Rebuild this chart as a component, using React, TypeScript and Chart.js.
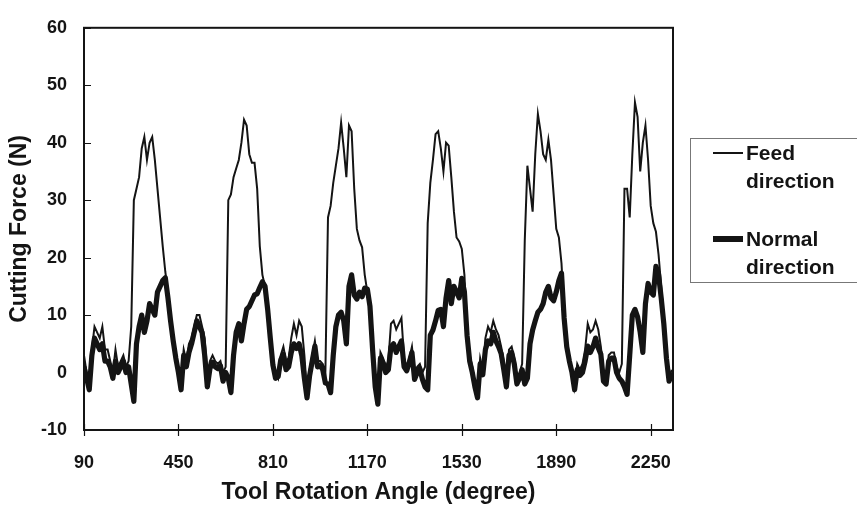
import React, { useEffect, useRef } from "react";
import { Chart, registerables } from "chart.js";

Chart.register(...registerables);

// ---- data ----
const ANGLE_START = 90; // degrees, first sample
const ANGLE_STEP = 10; // degrees between samples
const X_MIN = 90;
const X_MAX = 2335;
const X_TICKS = [90, 450, 810, 1170, 1530, 1890, 2250];
const Y_TICKS = [-10, 0, 10, 20, 30, 40, 50, 60];
const SERIES_NAMES = ["Feed direction", "Normal direction"];
const X_TITLE = "Tool Rotation Angle (degree)";
const Y_TITLE = "Cutting Force (N)";

const FEED = [
  3, 0, -2, 4, 8, 7, 6, 8, 4, 4,
  2, 0, 4, 1, 2, 3, 1, 2, 8, 30,
  32, 34, 39, 41, 37, 40, 41, 37, 32, 27,
  22, 17.5, 14, 10, 6, 3.5, 0.5, -1, 4, 2,
  5, 6, 8, 10, 10, 8, 6, 0, 2, 3,
  2, 1.5, 2, 0, 1, 30, 31, 34, 35.5, 37,
  40, 44, 43, 38, 36.5, 36.5, 32, 22, 17, 15,
  11.5, 6.5, 2, 0, -1, 3, 4.5, 2, 2.5, 6,
  8.5, 6.5, 9, 8, 3, -3.5, 0.5, 3, 5.5, 2,
  2, 1.5, 0, 27, 29, 33, 36, 39, 43.5, 39,
  34, 43, 42, 32, 25, 23, 21.8, 17, 14, 12,
  5, -1, -4.5, 3.5, 2.5, 1, 2, 8.5, 9, 7.5,
  8.5, 9.5, 2.5, 1, 2.5, 4.5, 0, 1, 1.5, 0,
  1, 26, 33, 37, 41.5, 42, 39, 35, 40, 39.5,
  34, 28, 23.5, 22.8, 21.5, 17, 7, 3, 1, -2,
  -3.5, 2.5, 0.5, 6, 8, 7, 9, 7.5, 6.5, 4.5,
  2, -1.5, 4, 4.5, 2.5, -1, 0, 1.5, 23, 36,
  32, 28, 38, 45, 42, 38, 37, 40.5, 37, 31,
  25, 23.5, 19, 10.5, 5, 2.5, 0.5, -2.5, 1.5, 0.5,
  1.5, 4, 8.5, 7, 7.5, 9, 7.5, 4.5, 0, -1,
  3, 3.5, 3.5, 1, 0, 1.5, 32, 32, 27, 38,
  47, 44.5, 35, 40, 43, 37, 29, 26, 24.5, 20.5,
  15, 9, 3, -1, 0.5,
];

const NORMAL = [
  1, -1, -3, 3, 6, 5, 4, 5, 2, 2,
  1, -1, 2, 0, 1, 2, 0, 1, -2, -5,
  5, 8, 10, 7, 9, 12, 11, 10, 14, 15,
  16, 16.5, 13, 9, 5.5, 2.5, 0, -3, 3, 1,
  3.5, 5, 7, 9, 8, 7, 3, -2.5, 0.7, 1.8,
  1, 0.7, 1.2, -1.5, 0, -1, -3.5, 3, 7, 8.5,
  5.5, 8.5, 11, 11.5, 12.5, 13.5, 13.7, 14.8, 15.8, 15,
  11, 6, 1.3, -1, -0.7, 2.2, 3.2, 0.5, 1, 3.5,
  5, 4.2, 5, 3, -1, -4.4, -0.5, 2, 4.6, 1,
  1.2, 0.5, -1.8, -2, -3.5, 3, 8, 10, 10.5, 9,
  5, 15, 17, 13.5, 12.8, 14, 13.2, 14.7, 14.5, 11.5,
  4, -2.5, -5.5, 2.5, 1.7, 0, 0.5, 4.5, 5, 3.5,
  4.5, 5.5, 1, 0.3, 1.8, 3.5, -1.2, 0, 0.7, -1.2,
  -2.5, -3, 6.5, 7.4, 9, 10.8, 11, 8, 13, 16,
  12, 15, 14, 13, 16.4, 14, 6.5, 2, 0, -2.5,
  -4.4, 1.5, -0.4, 4, 5.5, 5, 7, 5.5, 4.5, 3.3,
  0.5, -2.5, 3, 3.5, 1.5, -2, -1, 0.5, -2, -1,
  5, 7.4, 9, 10.5, 11, 12, 14, 15, 13, 12.5,
  14, 16, 17.3, 9.5, 4.5, 2, 0, -3, 0.5, -0.5,
  0, 2, 4.6, 3.5, 4.5, 6, 4.3, 3.2, -1.5, -2,
  2, 2.5, 2.5, 0, -1, -1.5, -2.5, -3.8, 3, 10,
  11, 9.7, 7, 3.5, 12, 15.5, 14, 13.5, 18.5, 17,
  13, 8.5, 2.5, -1.5, 0,
];

// ---- styles ----
const FONT = "'Liberation Sans', Arial, Helvetica, sans-serif";
const INK = "#141414";
const W = 857;
const H = 507;
const FEED_WIDTH = 2;
const NORMAL_WIDTH = 5.2;

const toPoints = (vals: number[]) =>
  vals.map((y, i) => ({ x: ANGLE_START + i * ANGLE_STEP, y }));

const framePlugin = {
  id: "frameTicks",
  afterDraw(chart: any) {
    const { ctx, chartArea: a, scales } = chart;
    ctx.save();
    ctx.strokeStyle = INK;
    ctx.lineWidth = 2;
    ctx.strokeRect(a.left, a.top, a.right - a.left, a.bottom - a.top);
    ctx.lineWidth = 1.2;
    ctx.beginPath();
    scales.x.ticks.forEach((t: any) => {
      const px = Math.round(scales.x.getPixelForValue(t.value)) + 0.5;
      ctx.moveTo(px, a.bottom - 6);
      ctx.lineTo(px, a.bottom + 6);
    });
    scales.y.ticks.forEach((t: any) => {
      const py = Math.round(scales.y.getPixelForValue(t.value)) + 0.5;
      ctx.moveTo(a.left, py);
      ctx.lineTo(a.left + 7, py);
    });
    ctx.stroke();
    ctx.restore();
  },
};

export default function App() {
  const canvasRef = useRef<HTMLCanvasElement | null>(null);

  useEffect(() => {
    document.body.style.margin = "0";
    const canvas = canvasRef.current;
    if (!canvas) return;
    const chart = new Chart(canvas, {
      type: "line",
      data: {
        datasets: [
          {
            label: SERIES_NAMES[1],
            data: toPoints(NORMAL),
            borderColor: INK,
            borderWidth: NORMAL_WIDTH,
            borderJoinStyle: "round",
            pointRadius: 0,
            tension: 0,
            fill: false,
          },
          {
            label: SERIES_NAMES[0],
            data: toPoints(FEED),
            borderColor: INK,
            borderWidth: FEED_WIDTH,
            pointRadius: 0,
            tension: 0,
            fill: false,
          },
        ],
      },
      options: {
        animation: false,
        responsive: false,
        maintainAspectRatio: false,
        layout: { padding: { top: 15, right: 184, left: 0, bottom: 0 } },
        plugins: { legend: { display: false }, tooltip: { enabled: false } },
        scales: {
          x: {
            type: "linear",
            min: X_MIN,
            max: X_MAX,
            grid: { display: false, drawTicks: false },
            border: { display: false },
            afterBuildTicks: (s: any) => {
              s.ticks = X_TICKS.map((v) => ({ value: v }));
            },
            afterFit: (s: any) => {
              s.height = 77;
            },
            ticks: {
              autoSkip: false,
              maxRotation: 0,
              padding: 22,
              color: INK,
              font: { family: FONT, size: 18, weight: "bold" },
              callback: (v: any) => String(v),
            },
            title: {
              display: true,
              text: X_TITLE,
              color: INK,
              font: { family: FONT, size: 23, weight: "bold" },
              padding: { top: 0, bottom: 1 },
            },
          },
          y: {
            min: -10,
            max: 60,
            grid: { display: false, drawTicks: false },
            border: { display: false },
            afterBuildTicks: (s: any) => {
              s.ticks = Y_TICKS.map((v) => ({ value: v }));
            },
            afterFit: (s: any) => {
              s.width = 84;
            },
            ticks: {
              padding: 17,
              color: INK,
              font: { family: FONT, size: 18, weight: "bold" },
            },
            title: {
              display: true,
              text: Y_TITLE,
              color: INK,
              font: { family: FONT, size: 23, weight: "bold" },
              padding: { top: 6, bottom: 0 },
            },
          },
        },
      } as any,
      plugins: [framePlugin],
    });
    return () => chart.destroy();
  }, []);

  const legendEntries = [
    { name: SERIES_NAMES[0], width: FEED_WIDTH, top: 0 },
    { name: SERIES_NAMES[1], width: NORMAL_WIDTH, top: 86 },
  ];

  return (
    <div style={{ position: "relative", width: W, height: H, overflow: "hidden", background: "#fff" }}>
      <canvas ref={canvasRef} width={W} height={H} style={{ display: "block", width: W, height: H }} />
      <div
        style={{
          position: "absolute",
          left: 690,
          top: 138,
          width: 175,
          height: 145,
          border: "1px solid #777",
          boxSizing: "border-box",
          fontFamily: FONT,
          fontWeight: "bold",
          fontSize: 21,
          color: INK,
        }}
      >
        {legendEntries.map((e) => {
          const idx = e.name.indexOf(" ");
          const first = e.name.slice(0, idx);
          const rest = e.name.slice(idx + 1);
          return (
            <div key={e.name} style={{ position: "absolute", left: 0, top: e.top, width: "100%" }}>
              <div
                style={{
                  position: "absolute",
                  left: 22,
                  top: 14 - e.width / 2,
                  width: 30,
                  height: e.width,
                  background: INK,
                }}
              />
              <div style={{ position: "absolute", left: 55, top: 0, lineHeight: "28px", whiteSpace: "nowrap" }}>
                <div>{first}</div>
                <div>{rest}</div>
              </div>
            </div>
          );
        })}
      </div>
    </div>
  );
}
